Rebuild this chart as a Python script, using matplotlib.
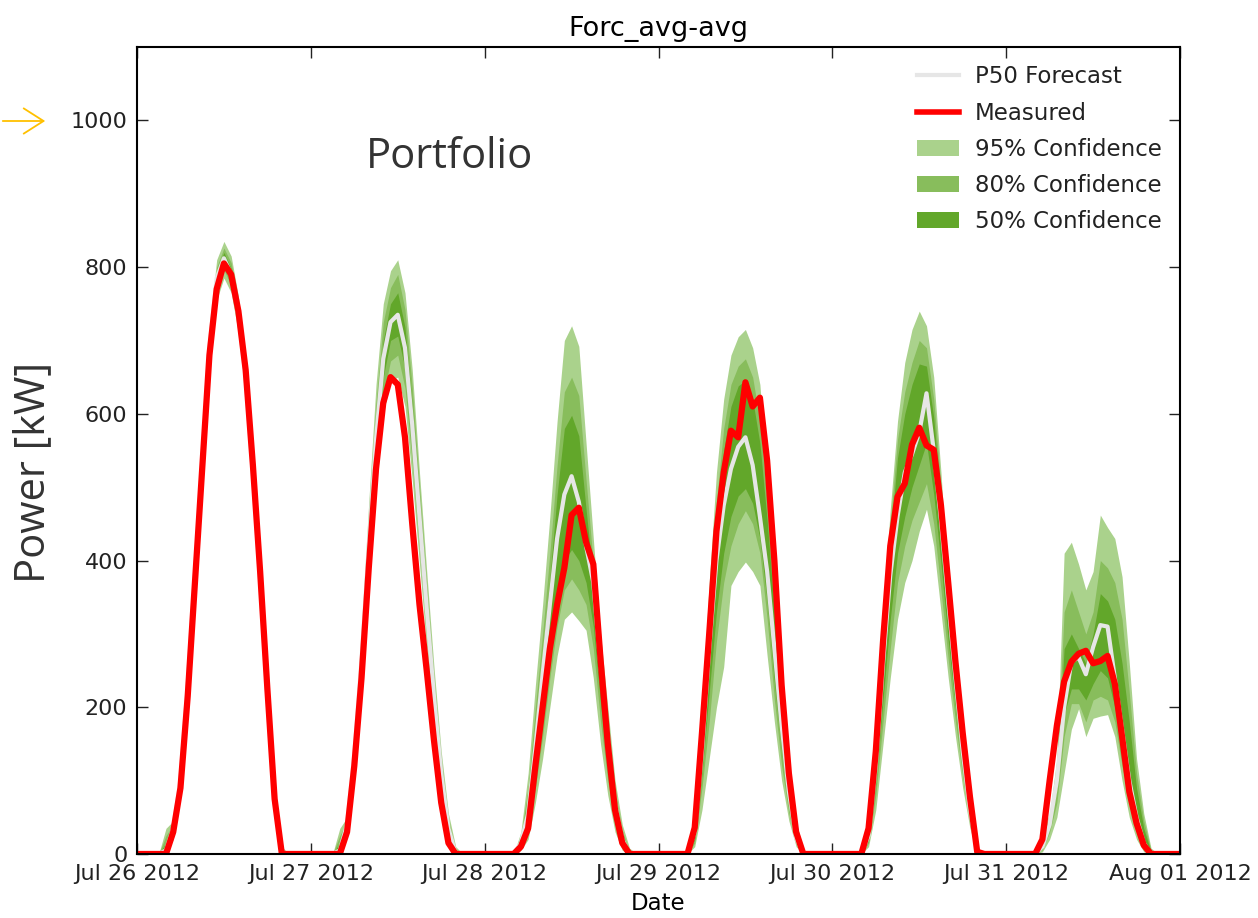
import numpy as np
import pandas as pd
import matplotlib
matplotlib.use("Agg")
import matplotlib.pyplot as plt
import matplotlib.dates as mdates
from matplotlib.patches import Patch
from matplotlib.lines import Line2D

# hourly values for hours 04..20 of each day, Jul 26 .. Jul 31 2012 (kW)
days = ["2012-07-26", "2012-07-27", "2012-07-28", "2012-07-29", "2012-07-30", "2012-07-31"]
first_hour = 4

measured = [
    [0, 30, 90, 215, 370, 525, 680, 770, 805, 790, 740, 660, 530, 385, 225, 75, 0],
    [0, 30, 120, 240, 390, 525, 615, 650, 640, 568, 450, 340, 250, 155, 70, 15, 0],
    [0, 10, 35, 120, 200, 280, 340, 390, 462, 472, 425, 395, 265, 150, 60, 15, 0],
    [0, 36, 165, 300, 440, 520, 577, 568, 643, 610, 622, 536, 400, 230, 110, 30, 0],
    [0, 35, 140, 290, 420, 487, 505, 558, 581, 557, 551, 475, 370, 262, 165, 78, 3],
    [0, 20, 100, 175, 235, 262, 273, 277, 260, 263, 270, 232, 160, 85, 42, 12, 0],
]
p50 = [
    [5, 35, 100, 230, 380, 530, 690, 785, 812, 790, 735, 650, 520, 375, 215, 70, 0],
    [5, 40, 135, 265, 420, 565, 675, 725, 735, 690, 585, 460, 335, 215, 110, 35, 0],
    [0, 15, 55, 145, 245, 340, 430, 490, 515, 480, 420, 370, 255, 155, 68, 20, 0],
    [0, 30, 140, 280, 400, 475, 525, 555, 568, 530, 460, 385, 280, 175, 85, 22, 0],
    [0, 25, 120, 260, 380, 460, 520, 545, 575, 628, 550, 455, 345, 240, 140, 60, 5],
    [0, 10, 40, 100, 200, 262, 268, 245, 282, 312, 310, 240, 170, 100, 50, 15, 0],
]
hi95 = [
    [35, 45, 120, 255, 410, 560, 720, 810, 835, 815, 760, 675, 545, 400, 235, 85, 10],
    [35, 50, 165, 310, 480, 640, 750, 795, 810, 765, 660, 520, 385, 255, 140, 55, 10],
    [0, 30, 110, 230, 340, 460, 590, 700, 720, 692, 560, 430, 300, 200, 100, 40, 8],
    [0, 40, 200, 370, 520, 620, 680, 705, 715, 690, 640, 510, 380, 250, 130, 45, 5],
    [0, 30, 150, 330, 470, 590, 670, 715, 740, 720, 650, 520, 365, 255, 155, 68, 8],
    [0, 30, 55, 130, 410, 425, 395, 360, 385, 462, 445, 430, 378, 260, 130, 55, 8],
]
hi80 = [
    [25, 40, 112, 245, 398, 548, 708, 800, 826, 806, 750, 665, 535, 390, 227, 80, 5],
    [25, 45, 155, 295, 460, 615, 725, 772, 790, 742, 637, 500, 367, 240, 128, 48, 5],
    [0, 25, 90, 200, 300, 410, 530, 630, 650, 625, 510, 395, 275, 175, 85, 32, 3],
    [0, 35, 180, 340, 480, 580, 640, 665, 675, 650, 590, 480, 350, 220, 105, 35, 3],
    [0, 28, 140, 310, 450, 565, 630, 670, 700, 690, 620, 500, 358, 250, 150, 65, 7],
    [0, 25, 50, 120, 330, 360, 330, 300, 330, 400, 390, 370, 320, 220, 110, 45, 5],
]
hi50 = [
    [15, 38, 106, 238, 390, 540, 700, 793, 820, 798, 743, 658, 528, 383, 221, 75, 2],
    [15, 42, 145, 280, 440, 590, 700, 750, 765, 718, 612, 480, 352, 228, 118, 42, 2],
    [0, 20, 75, 175, 275, 375, 490, 580, 598, 570, 470, 375, 260, 160, 78, 26, 2],
    [0, 32, 165, 315, 450, 550, 610, 638, 646, 620, 560, 455, 330, 205, 98, 30, 2],
    [0, 26, 130, 290, 430, 540, 600, 640, 668, 665, 595, 480, 350, 245, 145, 62, 6],
    [0, 22, 45, 110, 280, 300, 280, 260, 300, 355, 345, 320, 260, 180, 90, 35, 3],
]
lo50 = [
    [0, 30, 94, 222, 370, 520, 680, 777, 804, 782, 727, 642, 512, 367, 209, 65, 0],
    [0, 35, 125, 252, 400, 540, 650, 700, 706, 662, 558, 437, 315, 200, 100, 28, 0],
    [0, 10, 40, 110, 190, 275, 350, 400, 415, 400, 370, 310, 205, 118, 50, 12, 0],
    [0, 20, 110, 220, 330, 410, 460, 488, 498, 478, 430, 345, 235, 140, 65, 18, 0],
    [0, 18, 95, 210, 320, 410, 460, 500, 530, 560, 490, 395, 290, 200, 115, 45, 0],
    [0, 8, 35, 90, 190, 225, 225, 210, 232, 250, 240, 200, 140, 85, 45, 12, 0],
]
lo80 = [
    [0, 25, 88, 215, 362, 512, 672, 767, 796, 775, 720, 635, 505, 360, 203, 60, 0],
    [0, 30, 118, 240, 385, 520, 625, 672, 680, 635, 533, 415, 298, 185, 90, 20, 0],
    [0, 8, 30, 90, 160, 240, 310, 360, 375, 360, 340, 280, 180, 100, 40, 8, 0],
    [0, 15, 90, 180, 290, 370, 420, 450, 468, 450, 410, 320, 210, 120, 55, 14, 0],
    [0, 15, 80, 180, 280, 370, 420, 455, 480, 505, 450, 360, 265, 180, 105, 40, 0],
    [0, 6, 30, 70, 160, 205, 205, 180, 210, 215, 210, 180, 120, 70, 35, 8, 0],
]
lo95 = [
    [0, 20, 80, 205, 350, 500, 660, 755, 785, 765, 710, 625, 495, 350, 195, 55, 0],
    [0, 25, 110, 225, 365, 495, 600, 645, 650, 610, 510, 395, 280, 170, 80, 15, 0],
    [0, 5, 20, 70, 130, 200, 270, 320, 330, 318, 305, 240, 150, 80, 30, 5, 0],
    [0, 10, 60, 130, 200, 255, 366, 385, 398, 385, 366, 270, 180, 100, 45, 10, 0],
    [0, 10, 60, 150, 240, 320, 370, 400, 440, 470, 420, 330, 240, 160, 90, 35, 0],
    [0, 3, 20, 50, 110, 170, 198, 160, 185, 188, 190, 160, 100, 50, 20, 3, 0],
]


def hourly(rows):
    # pad each day with the zero night hours
    out = []
    for r in rows:
        out += [0] * first_hour + list(r) + [0] * (24 - first_hour - len(r))
    out.append(0)
    return np.array(out, dtype=float)


t = pd.date_range(days[0], periods=24 * len(days) + 1, freq="h")

c95 = "#aad28c"
c80 = "#88bd5c"
c50 = "#62a72a"

fig = plt.figure(figsize=(12.58, 9.18), dpi=100)
ax = fig.add_axes([137 / 1258, 64 / 918, 1043 / 1258, 807 / 918])

ax.fill_between(t, hourly(lo95), hourly(hi95), color=c95, lw=0)
ax.fill_between(t, hourly(lo80), hourly(hi80), color=c80, lw=0)
ax.fill_between(t, hourly(lo50), hourly(hi50), color=c50, lw=0)
ax.plot(t, hourly(p50), color="#e6e6e6", lw=3)
ax.plot(t, hourly(measured), color="#ff0000", lw=4.5)

ax.set_xlim(t[0], t[-1])
ax.set_ylim(0, 1100)
ax.set_yticks([0, 200, 400, 600, 800, 1000])
ax.xaxis.set_major_locator(mdates.DayLocator())
ax.xaxis.set_major_formatter(mdates.DateFormatter("%b %d %Y"))
ax.tick_params(direction="in", top=True, right=True, length=8, width=1,
               labelsize=16, pad=7, colors="#222222")
for s in ax.spines.values():
    s.set_linewidth(1.5)

ax.set_title("Forc_avg-avg", fontsize=19.5, pad=8)
ax.set_xlabel("Date", fontsize=16.5, labelpad=6)

fig.text(33 / 1258, 1 - 472 / 918, "Power [kW]", rotation=90, fontsize=30,
         family="Open Sans", color="#333333", ha="center", va="center")
fig.text(450 / 1258, 1 - 157 / 918, "Portfolio", fontsize=30,
         family="Open Sans", color="#333333", ha="center", va="center")

ax.annotate("", xy=(48, 918 - 121), xytext=(0, 918 - 121), xycoords="figure pixels",
            textcoords="figure pixels",
            arrowprops=dict(arrowstyle="->, head_length=0.55, head_width=0.35",
                            color="#ffc000", lw=1.3, mutation_scale=26))

handles = [
    Line2D([], [], color="#e6e6e6", lw=3),
    Line2D([], [], color="#ff0000", lw=4),
    Patch(facecolor=c95, edgecolor="none"),
    Patch(facecolor=c80, edgecolor="none"),
    Patch(facecolor=c50, edgecolor="none"),
]
labels = ["P50 Forecast", "Measured", "95% Confidence", "80% Confidence", "50% Confidence"]
leg = ax.legend(handles, labels, loc="upper right", frameon=False, fontsize=16.5,
                handlelength=1.8, handletextpad=0.7, labelspacing=0.58,
                borderaxespad=0.4)
for tx in leg.get_texts():
    tx.set_color("#222222")

fig.savefig("out.png", dpi=100)
